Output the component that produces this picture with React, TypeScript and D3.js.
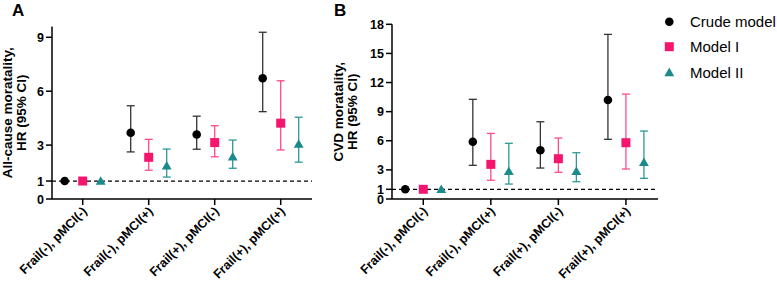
import React from "react";
import * as d3 from "d3";

const categories = ["Frail(-), pMCI(-)", "Frail(-), pMCI(+)", "Frail(+), pMCI(-)", "Frail(+), pMCI(+)"];
const seriesNames = ["Crude model", "Model I", "Model II"];
const seriesColors = ["#000000", "#f5156e", "#1b8a8a"];
const barColors = ["#333333", "#ff4a8c", "#2f9898"];

// Panel A: All-cause mortality
const aEst = [
  [1, 3.69, 3.59, 6.72],
  [1, 2.32, 3.14, 4.22],
  [1, 1.84, 2.34, 3.06],
];
const aLow = [
  [1, 2.62, 2.77, 4.86],
  [1, 1.60, 2.35, 2.73],
  [1, 1.22, 1.71, 2.05],
];
const aHigh = [
  [1, 5.19, 4.61, 9.28],
  [1, 3.32, 4.08, 6.58],
  [1, 2.78, 3.28, 4.55],
];
const aTicks = [0, 1, 3, 6, 9];

// Panel B: CVD mortality
const bEst = [
  [1, 5.9, 5.02, 10.2],
  [1, 3.57, 4.15, 5.8],
  [1, 2.85, 2.85, 3.78],
];
const bLow = [
  [1, 3.47, 3.19, 6.15],
  [1, 1.93, 2.75, 3.09],
  [1, 1.54, 1.78, 2.13],
];
const bHigh = [
  [1, 10.27, 7.96, 16.96],
  [1, 6.76, 6.28, 10.81],
  [1, 5.74, 4.77, 7.0],
];
const bTicks = [0, 1, 3, 6, 9, 12, 15, 18];

const FONT = "'Liberation Sans', Arial, Helvetica, sans-serif";

function Marker({ kind, x, y, color }: { kind: number; x: number; y: number; color: string }) {
  if (kind === 0) return <circle cx={x} cy={y} r={4.3} fill={color} />;
  if (kind === 1) return <rect x={x - 4.5} y={y - 4.5} width={9} height={9} fill={color} />;
  const s = d3.symbol().type(d3.symbolTriangle).size(42)();
  return <path d={s || ""} transform={`translate(${x},${y + 0.8})`} fill={color} />;
}

type PanelProps = {
  label: string;
  titleLines: string[];
  est: number[][];
  low: number[][];
  high: number[][];
  ticks: number[];
  yMax: number;
  yTop: number;
  axisX0: number;
  axisX1: number;
  pointRange: [number, number];
  labelX: number;
  titleX: number;
};

function Panel(p: PanelProps) {
  const y0 = 199;
  const y = d3.scaleLinear().domain([0, p.yMax]).range([y0, p.yTop]);
  const x = d3.scalePoint<string>().domain(categories).range(p.pointRange).padding(0.5);
  const offsets = [-18, 0, 18];
  const titleCenter = (y0 + p.yTop) / 2;
  return (
    <g>
      <text x={p.labelX} y={16} fontFamily={FONT} fontWeight="bold" fontSize={17}>{p.label}</text>
      {p.titleLines.map((t, i) => (
        <text key={i} transform={`translate(${p.titleX + i * 14},${titleCenter}) rotate(-90)`} textAnchor="middle"
          fontFamily={FONT} fontWeight="bold" fontSize={13.5}>{t}</text>
      ))}
      {/* dashed reference line */}
      <line x1={p.axisX0} x2={p.axisX1} y1={y(1)} y2={y(1)} stroke="#000" strokeWidth={1.3} strokeDasharray="4,3" />
      {/* y axis */}
      <line x1={p.axisX0} x2={p.axisX0} y1={y(p.yMax)} y2={y0} stroke="#000" strokeWidth={1.5} />
      {p.ticks.map((t) => (
        <g key={t}>
          <line x1={p.axisX0 - 6} x2={p.axisX0} y1={y(t)} y2={y(t)} stroke="#000" strokeWidth={1.5} />
          <text x={p.axisX0 - 8} y={y(t)} dy="0.36em" textAnchor="end" fontFamily={FONT} fontWeight="bold" fontSize={12.5}>{t}</text>
        </g>
      ))}
      {/* x axis */}
      <line x1={p.axisX0} x2={p.axisX1} y1={y0} y2={y0} stroke="#000" strokeWidth={1.5} />
      {categories.map((c) => {
        const cx = x(c) as number;
        return (
          <g key={c}>
            <line x1={cx} x2={cx} y1={y0} y2={y0 + 6} stroke="#000" strokeWidth={1.5} />
            <text transform={`translate(${cx + 5},${y0 + 13}) rotate(-45)`} textAnchor="end" fontFamily={FONT}
              fontWeight="bold" fontSize={12.5}>{c}</text>
          </g>
        );
      })}
      {/* error bars + markers */}
      {seriesNames.map((s, si) => (
        <g key={s}>
          {categories.map((c, ci) => {
            const cx = (x(c) as number) + offsets[si];
            const hasCI = p.high[si][ci] !== p.low[si][ci];
            return (
              <g key={c}>
                {hasCI && (
                  <g stroke={barColors[si]} strokeWidth={1.3}>
                    <line x1={cx} x2={cx} y1={y(p.low[si][ci])} y2={y(p.high[si][ci])} />
                    <line x1={cx - 4} x2={cx + 4} y1={y(p.low[si][ci])} y2={y(p.low[si][ci])} />
                    <line x1={cx - 4} x2={cx + 4} y1={y(p.high[si][ci])} y2={y(p.high[si][ci])} />
                  </g>
                )}
                <Marker kind={si} x={cx} y={y(p.est[si][ci])} color={seriesColors[si]} />
              </g>
            );
          })}
        </g>
      ))}
    </g>
  );
}

export default function App() {
  const legendY = [21.7, 46.7, 72.5];
  return (
    <svg width={777} height={288} style={{ position: "absolute", left: 0, top: 0, background: "#fff" }}>
      <rect width={777} height={288} fill="#fff" />
      <Panel label="A" titleLines={["All-cause moratality,", "HR (95% CI)"]} est={aEst} low={aLow} high={aHigh}
        ticks={aTicks} yMax={9.6} yTop={26.5} axisX0={52} axisX1={312} pointRange={[49.7, 313.7]} labelX={12} titleX={12} />
      <Panel label="B" titleLines={["CVD moratality,", "HR (95% CI)"]} est={bEst} low={bLow} high={bHigh}
        ticks={bTicks} yMax={18} yTop={24.3} axisX0={392} axisX1={658} pointRange={[389.5, 659.7]} labelX={334} titleX={343} />
      {seriesNames.map((s, i) => (
        <g key={s}>
          <Marker kind={i} x={669.3} y={legendY[i]} color={seriesColors[i]} />
          <text x={690} y={legendY[i]} dy="0.36em" fontFamily={FONT} fontSize={15}>{s}</text>
        </g>
      ))}
    </svg>
  );
}
